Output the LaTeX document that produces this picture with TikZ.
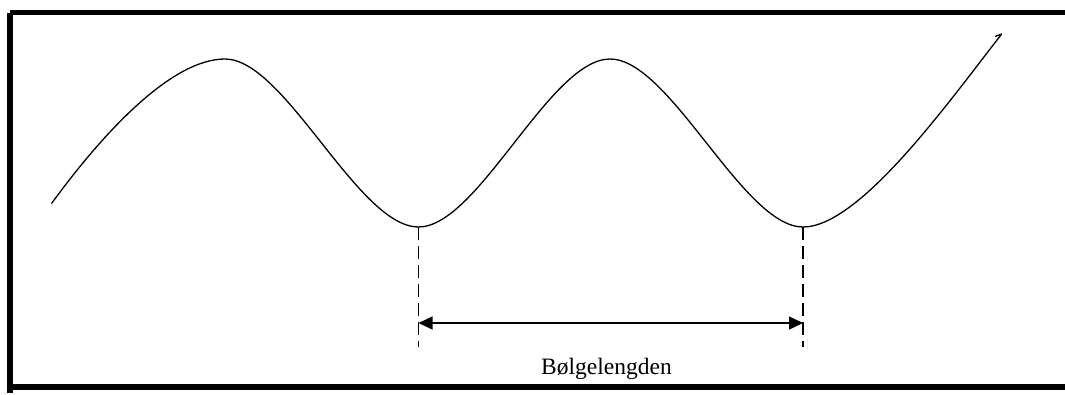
\documentclass[tikz,border=0pt]{standalone}
\usepackage{fontspec}
\setmainfont{Liberation Serif}
\usetikzlibrary{arrows.meta}
\begin{document}
\begin{tikzpicture}[x=1pt,y=-1pt,
  wave/.style={line width=1.3pt,line cap=round,line join=round},
  guide/.style={line width=1.3pt,dash pattern=on 13pt off 6pt},
  span/.style={line width=1.4pt,{Triangle[length=14pt,width=13pt]}-{Triangle[length=14pt,width=13pt]}},
  framebar/.style={fill=black,draw=none},
  lbl/.style={font=\fontsize{23.5}{28}\selectfont,inner sep=0pt,anchor=base}]
\useasboundingbox (0,0) rectangle (1065,394);
% frame
\fill[framebar] (10,9.5) rectangle (1065,15);
\fill[framebar] (7.3,12.7) rectangle (13.3,393);
\fill[framebar] (12.3,383.5) rectangle (1065,390);
% wave
\coordinate (t1) at (418.5,227);
\coordinate (t2) at (803,227);
\draw[wave] (51.7,203.3) .. controls (100,137) and (170,59) .. (225,59)
  .. controls (285,59) and (358,227) .. (t1)
  .. controls (478,227) and (550,59) .. (610,59)
  .. controls (670,59) and (743,227) .. (t2)
  .. controls (860,227) and (950,100) .. (1001.7,34)
  -- (995.5,36.3);
% guides
\coordinate (b1) at (418.5,347);
\coordinate (b2) at (803,347);
\draw[guide] (t1) -- (b1);
\draw[guide] (t2) -- (b2);
\coordinate (a1) at (418.5,323);
\coordinate (a2) at (803,323);
\draw[span] (a1) -- (a2);
\node[lbl] (label) at (606.5,374.3) {Bølgelengden};
\end{tikzpicture}
\end{document}
